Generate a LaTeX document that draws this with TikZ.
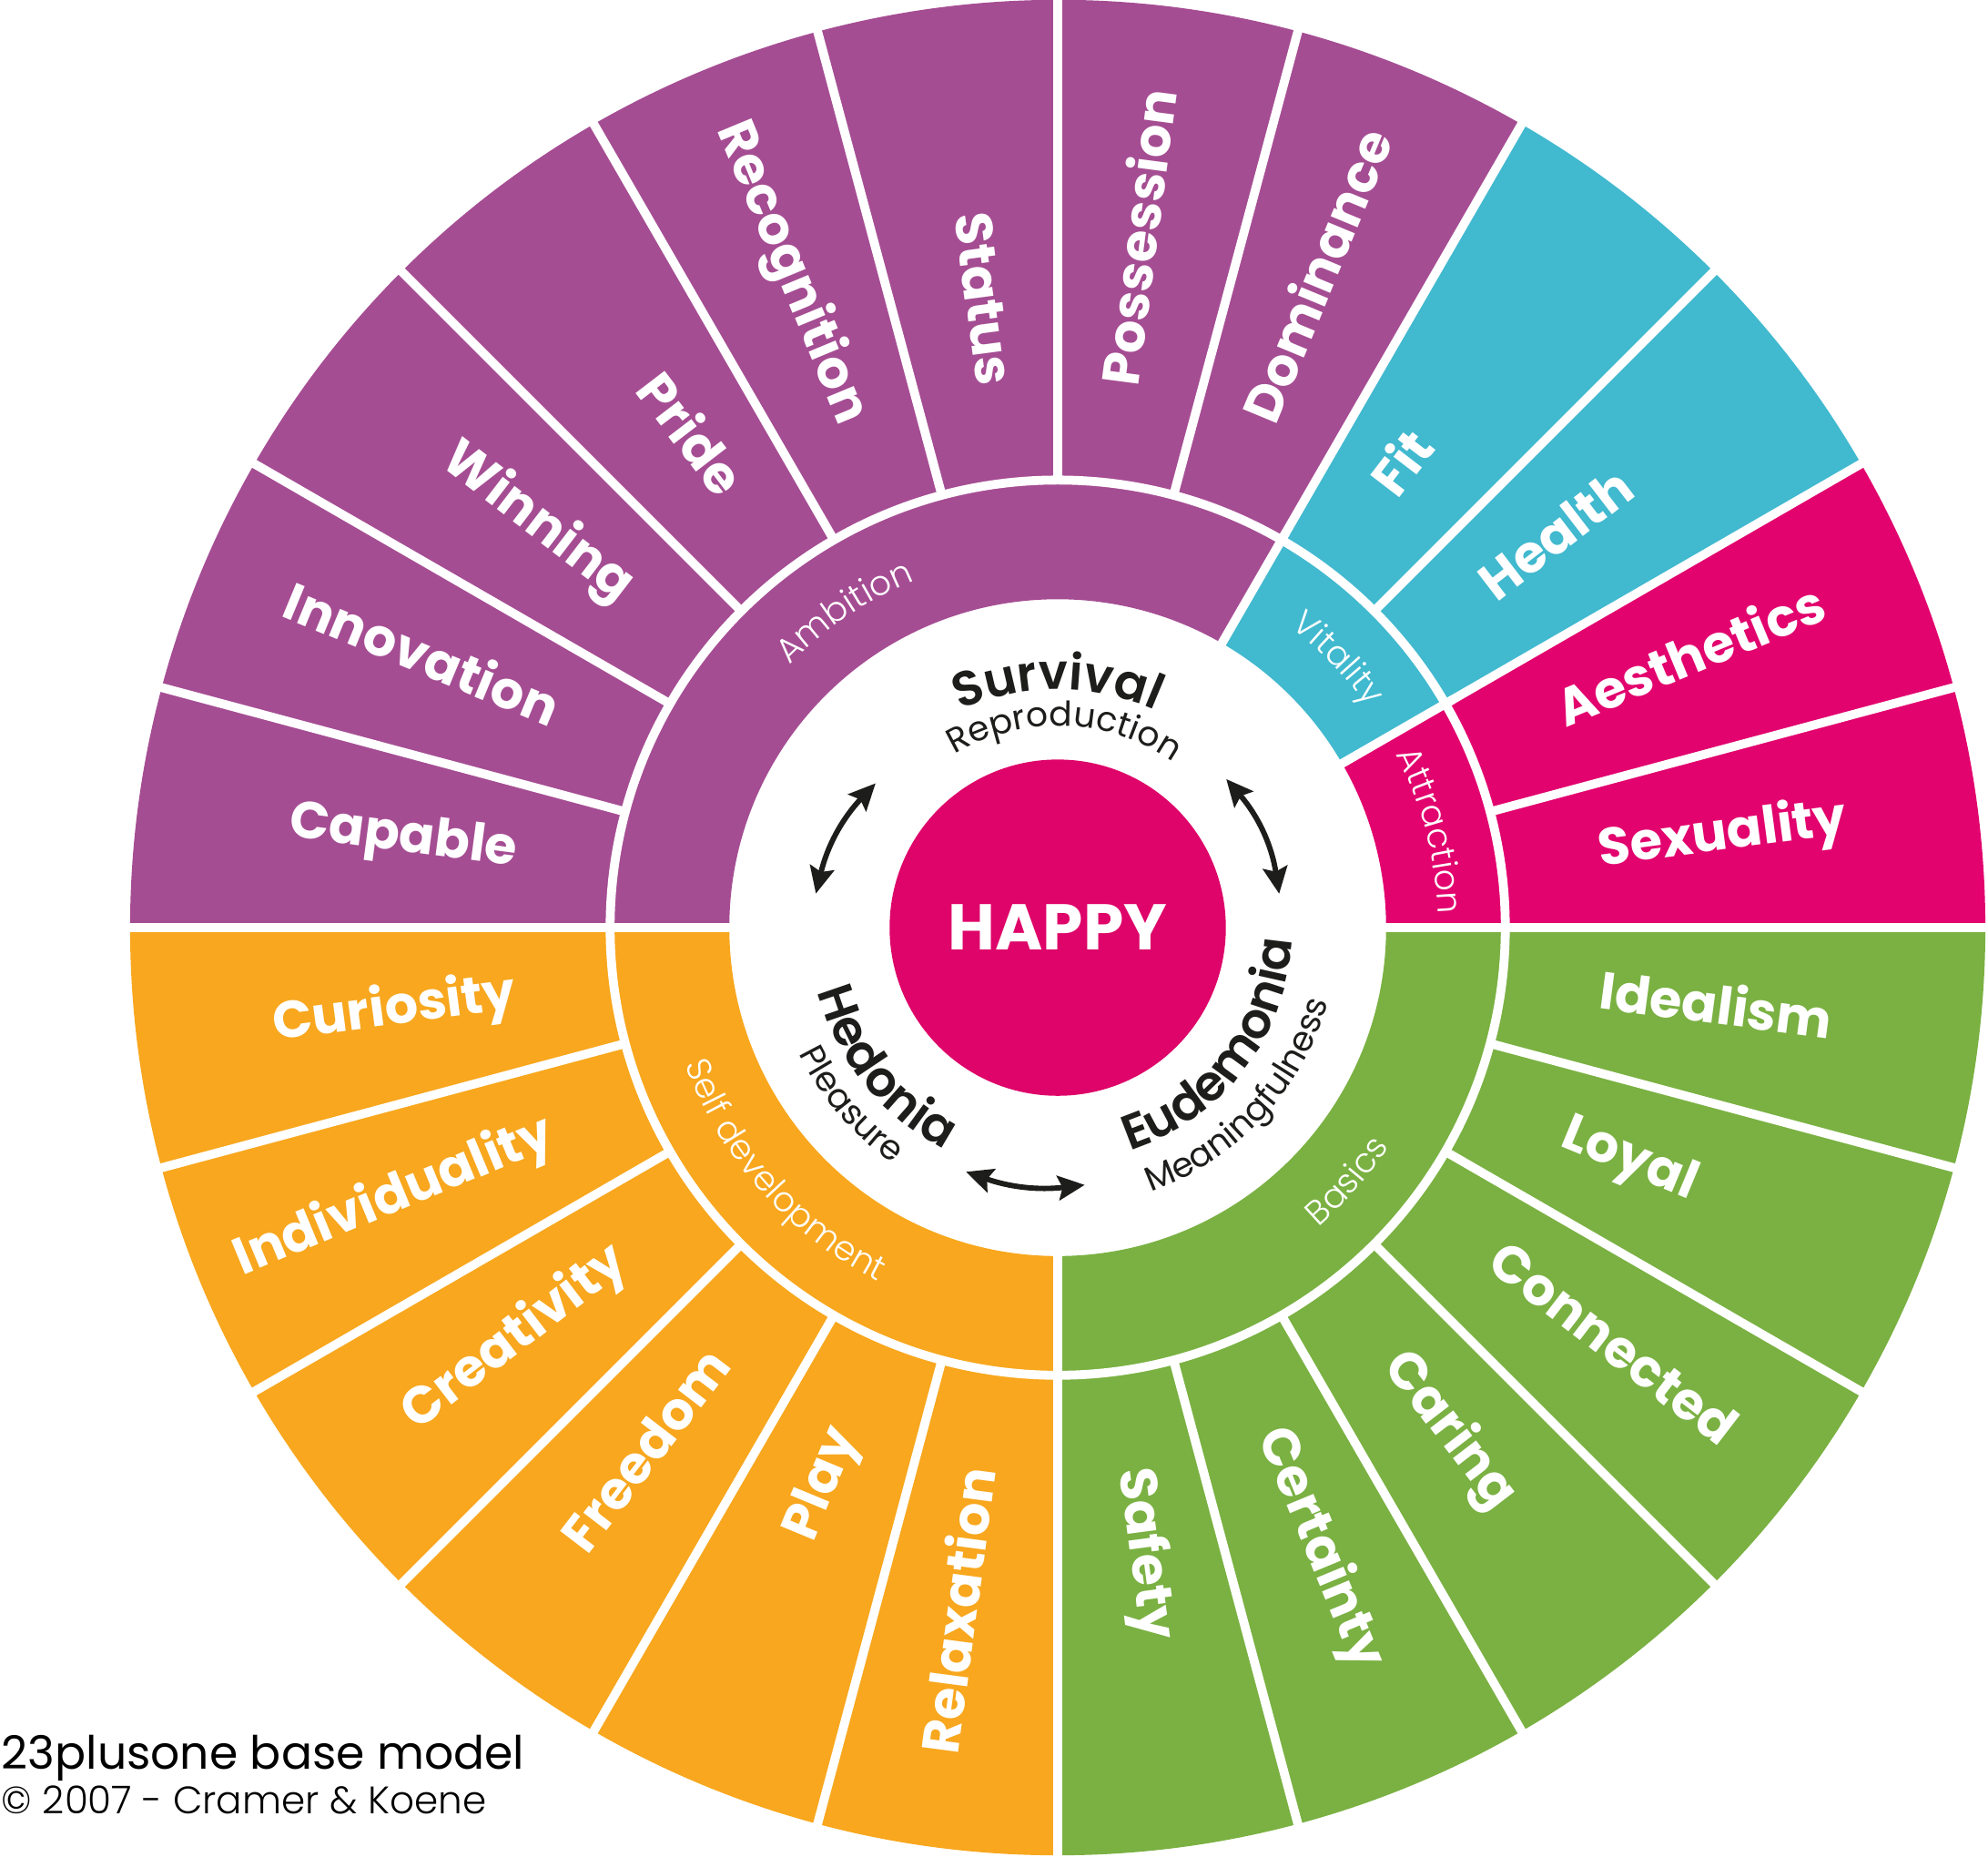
\documentclass[tikz,border=0pt]{standalone}
\usepackage{fontspec}
\usepackage{tikz}
\usetikzlibrary{arrows.meta, decorations.text}

\newfontfamily\popreg{Poppins}
\newfontfamily\poplight{Poppins Light}
\newfontfamily\popsemi{Poppins SemiBold}

\definecolor{ambpurple}{HTML}{A54D93}
\definecolor{vitcyan}{HTML}{41B9CF}
\definecolor{attrpink}{HTML}{E2036E}
\definecolor{basgreen}{HTML}{7AB142}
\definecolor{selforange}{HTML}{F8A71E}
\definecolor{happypink}{HTML}{DE0469}
\definecolor{inkblack}{HTML}{1D1D1B}

% text formats for the curved labels
\newcommand{\catfmt}{\poplight\fontsize{7.7}{9}\selectfont\color{white}}
\newcommand{\mainfmt}{\popsemi\fontsize{11}{13}\selectfont\color{inkblack}}
\newcommand{\subfmt}{\popreg\fontsize{7.7}{9}\selectfont\color{inkblack}}

% #1 format, #2 text, #3 middle angle, #4 baseline radius
\newcommand{\cwtext}[4]{%
  \path[decorate, decoration={text along path, text={|#1|#2}, text align=center}]
    ({#3+60}:#4) arc[start angle={#3+60}, end angle={#3-60}, radius=#4];}
\newcommand{\ccwtext}[4]{%
  \path[decorate, decoration={text along path, text={|#1|#2}, text align=center}]
    ({#3-60}:#4) arc[start angle={#3-60}, end angle={#3+60}, radius=#4];}

\begin{document}
\begin{tikzpicture}[>=Stealth,
    outlbl/.style={font=\popreg\bfseries\fontsize{11.7}{14}\selectfont, text=white, inner sep=0pt},
    seprule/.style={white, line width=2pt},
    dblarrow/.style={<->, inkblack, line width=1.2pt,
      >={Stealth[length=6pt, width=5.5pt, inset=1pt]}}]
  \useasboundingbox (-8.342,-7.323) rectangle (7.337,7.316);
  % Sectors: inner ring and outer ring of each group
  \foreach \a/\b/\col in {180/60/ambpurple, 60/30/vitcyan, 30/0/attrpink,
      0/-90/basgreen, -90/-180/selforange}
    \fill[\col] (\a:2.59) arc[start angle=\a, end angle=\b, radius=2.59]
      -- (\b:7.316) arc[start angle=\b, end angle=\a, radius=7.316] -- cycle;
  % White separators
  \draw[seprule] (0,0) circle[radius=3.53];
  \foreach \a in {0,15,...,345}
    \draw[seprule] (\a:3.53) -- (\a:7.4);
  \foreach \a in {180,60,30,0,-90}
    \draw[seprule] (\a:2.5) -- (\a:3.6);
  % Outer labels, right half (read outwards)
  \foreach \ang/\name/\word in {82.5/possession/Possession, 67.5/dominance/Dominance,
      52.5/fit/Fit, 37.5/health/Health, 22.5/aesthetics/Aesthetics,
      7.5/sexuality/Sexuality, -7.5/idealism/Idealism, -22.5/loyal/Loyal,
      -37.5/connected/Connected, -52.5/caring/Caring, -67.5/certainty/Certainty,
      -82.5/safety/Safety}
    \node[outlbl, anchor=mid west, rotate=\ang] (\name) at (\ang:4.3) {\word};
  % Outer labels, left half (read inwards)
  \foreach \ang/\name/\word in {172.5/capable/Capable, 157.5/innovation/Innovation,
      142.5/winning/Winning, 127.5/pride/Pride, 112.5/recognition/Recognition,
      97.5/status/Status, 262.5/relaxation/Relaxation, 247.5/play/Play,
      232.5/freedom/Freedom, 217.5/creativity/Creativity,
      202.5/individuality/Individuality, 187.5/curiosity/Curiosity}
    \node[outlbl, anchor=mid east, rotate=\ang-180] (\name) at (\ang:4.3) {\word};
  % Group labels
  \cwtext{\catfmt}{Ambition}{124}{2.96}
  \cwtext{\catfmt}{Vitality}{43.8}{3.0}
  \cwtext{\catfmt}{Attraction}{14.6}{3.0}
  \ccwtext{\catfmt}{Basics}{-41.2}{3.13}
  \ccwtext{\catfmt}{Self development}{221.6}{3.13}
  % Centre
  \node[circle, fill=happypink, minimum size=2.652cm, inner sep=0pt, text=white,
    font=\popreg\bfseries\fontsize{14.5}{16}\selectfont] (happy) at (0,0) {HAPPY};
  \cwtext{\mainfmt}{Survival}{90}{1.88}
  \cwtext{\subfmt}{Reproduction}{88}{1.59}
  \ccwtext{\mainfmt}{Hedonia}{219}{1.96}
  \ccwtext{\subfmt}{Pleasure}{220.5}{2.27}
  \ccwtext{\mainfmt}{Eudemonia}{-37.5}{1.85}
  \ccwtext{\subfmt}{Meaningfulness}{-43}{2.21}
  % Double arrows between the three
  \coordinate (hedL) at (172:1.926);
  \coordinate (survL) at (141.6:1.833);
  \coordinate (survR) at (41.4:1.772);
  \coordinate (eudR) at (8.7:1.767);
  \coordinate (hedB) at (249.4:2.057);
  \coordinate (eudB) at (276:2.04);
  \draw[dblarrow] (hedL) to[bend left=15] (survL);
  \draw[dblarrow] (survR) to[bend left=16] (eudR);
  \draw[dblarrow] (hedB) to[bend right=13] (eudB);
  % Caption
  \node[anchor=base west, inner sep=0pt, text=black,
    font=\popreg\fontsize{10.3}{12}\selectfont] (title) at (-8.335,-6.634)
    {23plusone base model};
  \node[anchor=base west, inner sep=0pt, text=black,
    font=\poplight\fontsize{8.6}{10}\selectfont] (credit) at (-8.335,-6.985)
    {© 2007 - Cramer \& Koene};
\end{tikzpicture}
\end{document}
